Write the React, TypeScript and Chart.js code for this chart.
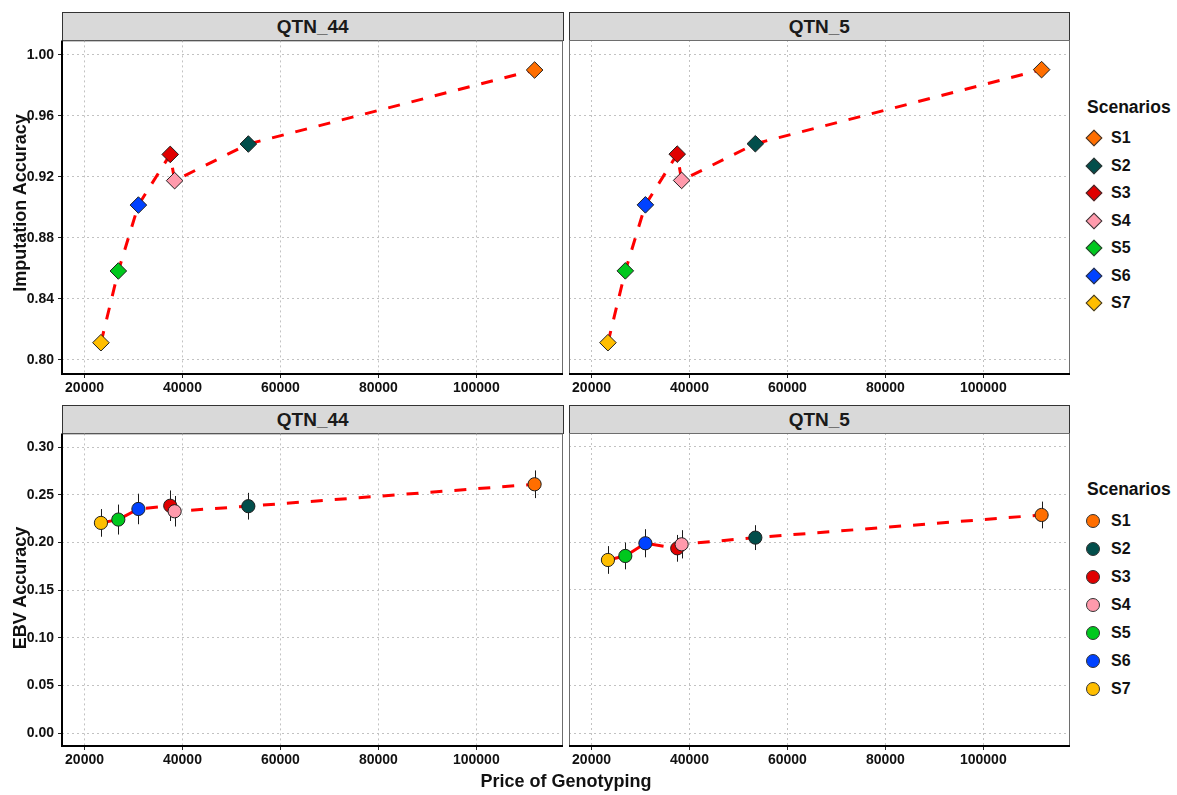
import React, { useEffect, useRef } from 'react';
import { Chart, registerables } from 'chart.js';

Chart.register(...registerables);

// ---------------- data ----------------
const scenarios = ['S1', 'S2', 'S3', 'S4', 'S5', 'S6', 'S7'];
const scenarioColors = ['#FF6E00', '#024E4B', '#E00000', '#FF9AAC', '#00C81E', '#0042FF', '#FFBE00'];
const panelTitles = ['QTN_44', 'QTN_5'];

const genotypingPrice = [111900, 53450, 37500, 38400, 26900, 31000, 23350];

const imputationQTN44 = [0.990, 0.9415, 0.9347, 0.9175, 0.8583, 0.9015, 0.8113];
const imputationQTN5 = [0.990, 0.9415, 0.9347, 0.9175, 0.8583, 0.9015, 0.8113];

const ebvQTN44 = [0.261, 0.238, 0.2385, 0.2327, 0.224, 0.2351, 0.2205];
const ebvQTN44Err = [0.0145, 0.014, 0.016, 0.016, 0.0157, 0.016, 0.0145];
const ebvQTN5 = [0.2285, 0.2048, 0.1936, 0.1978, 0.1856, 0.1989, 0.1814];
const ebvQTN5Err = [0.014, 0.013, 0.014, 0.0148, 0.014, 0.0147, 0.0145];

const priceTicks = [20000, 40000, 60000, 80000, 100000];
const imputationTicks = [0.80, 0.84, 0.88, 0.92, 0.96, 1.00];
const ebvTicks = [0.00, 0.05, 0.10, 0.15, 0.20, 0.25, 0.30];

const FONT = '"Liberation Sans", Arial, Helvetica, sans-serif';
const TEXT = '#111111';

// ---------------- plugins ----------------
const errorBarPlugin = {
  id: 'errorBars',
  beforeDatasetsDraw(chart: any, _args: any, opts: any) {
    const errs: number[] | undefined = opts && opts.errors;
    if (!errs) return;
    const ds = chart.data.datasets[1];
    const meta = chart.getDatasetMeta(1);
    const ys = chart.scales.y;
    const ctx = chart.ctx;
    ctx.save();
    ctx.strokeStyle = '#1a1a1a';
    ctx.lineWidth = 1;
    meta.data.forEach((pt: any, i: number) => {
      const v = ds.data[i].y;
      const y1 = ys.getPixelForValue(v + errs[i]);
      const y2 = ys.getPixelForValue(v - errs[i]);
      const x = Math.round(pt.x) + 0.5;
      ctx.beginPath();
      ctx.moveTo(x, y1);
      ctx.lineTo(x, y2);
      ctx.stroke();
    });
    ctx.restore();
  },
};

const framePlugin = {
  id: 'panelFrame',
  afterDraw(chart: any, _args: any, opts: any) {
    const { left, right, top, bottom } = chart.chartArea;
    const ctx = chart.ctx;
    ctx.save();
    ctx.strokeStyle = '#6e6e6e';
    ctx.lineWidth = 1;
    ctx.beginPath();
    ctx.moveTo(left, top + 0.5);
    ctx.lineTo(right, top + 0.5);
    ctx.moveTo(right - 0.5, top);
    ctx.lineTo(right - 0.5, bottom);
    if (!opts.axisLeft) {
      ctx.moveTo(left + 0.5, top);
      ctx.lineTo(left + 0.5, bottom);
    }
    ctx.stroke();
    ctx.strokeStyle = '#000000';
    ctx.lineWidth = 2;
    ctx.beginPath();
    if (opts.axisLeft) {
      ctx.moveTo(left, top);
      ctx.lineTo(left, bottom + 1);
    }
    ctx.moveTo(left - (opts.axisLeft ? 1 : 0), bottom);
    ctx.lineTo(right, bottom);
    ctx.stroke();
    ctx.restore();
  },
};

// ---------------- panel ----------------
type PanelProps = {
  left: number;
  top: number;
  width: number;
  height: number;
  showY: boolean;
  values: number[];
  errors?: number[];
  yTicks: number[];
  yMin: number;
  yMax: number;
  pointStyle: string;
  radius: number;
};

function Panel(p: PanelProps) {
  const ref = useRef<HTMLCanvasElement | null>(null);
  useEffect(() => {
    if (!ref.current) return;
    const points = genotypingPrice.map((x, i) => ({ x, y: p.values[i] }));
    const linePts = [...points].sort((a, b) => a.x - b.x);
    const gridCommon = {
      color: '#c2c2c2',
      lineWidth: 1,
      tickLength: 4,
      tickColor: '#222222',
      tickWidth: 1,
      tickBorderDash: [],
    };
    const chart = new Chart(ref.current, {
      type: 'scatter',
      data: {
        datasets: [
          {
            data: linePts,
            showLine: true,
            borderColor: '#FF0000',
            borderWidth: 3,
            borderDash: [12, 12],
            borderCapStyle: 'butt',
            pointRadius: 0,
            pointHoverRadius: 0,
            fill: false,
            tension: 0,
            order: 2,
          } as any,
          {
            data: points,
            pointStyle: p.pointStyle,
            pointRadius: p.radius,
            pointHoverRadius: p.radius,
            backgroundColor: scenarioColors,
            borderColor: '#1f1f1f',
            borderWidth: 1,
            order: 1,
          } as any,
        ],
      },
      options: {
        responsive: false,
        animation: false,
        events: [],
        layout: { autoPadding: false, padding: { top: 12, right: 5, bottom: 0, left: p.showY ? 0 : 5 } },
        plugins: {
          legend: { display: false },
          tooltip: { enabled: false },
          errorBars: { errors: p.errors },
          panelFrame: { axisLeft: p.showY },
        } as any,
        scales: {
          x: {
            type: 'linear',
            min: 15400,
            max: 117700,
            afterBuildTicks: (s: any) => {
              s.ticks = priceTicks.map((v) => ({ value: v }));
            },
            afterFit: (s: any) => {
              s.height = 26;
            },
            grid: { ...gridCommon, drawTicks: true },
            border: { display: false, dash: [2, 3] },
            ticks: {
              color: TEXT,
              font: { family: FONT, size: 14, weight: 'bold' },
              padding: 2,
              maxRotation: 0,
              autoSkip: false,
              callback: (v: any) => String(v),
            },
          },
          y: {
            type: 'linear',
            min: p.yMin,
            max: p.yMax,
            afterBuildTicks: (s: any) => {
              s.ticks = p.yTicks.map((v) => ({ value: v }));
            },
            afterFit: (s: any) => {
              s.width = p.showY ? 62 : 0;
            },
            grid: { ...gridCommon, drawTicks: p.showY },
            border: { display: false, dash: [2, 3] },
            ticks: {
              display: p.showY,
              color: TEXT,
              font: { family: FONT, size: 14, weight: 'bold' },
              padding: 4,
              autoSkip: false,
              callback: (v: any) => Number(v).toFixed(2),
            },
          },
        },
      } as any,
      plugins: [errorBarPlugin, framePlugin],
    });
    return () => chart.destroy();
  }, []);
  return (
    <canvas
      ref={ref}
      width={p.width}
      height={p.height}
      style={{ position: 'absolute', left: p.left, top: p.top, width: p.width, height: p.height }}
    />
  );
}

function Strip({ left, top, width, label }: { left: number; top: number; width: number; label: string }) {
  return (
    <div
      style={{
        position: 'absolute',
        left,
        top,
        width,
        height: 29,
        boxSizing: 'border-box',
        background: '#d9d9d9',
        border: '1px solid #333333',
        display: 'flex',
        alignItems: 'center',
        justifyContent: 'center',
        font: `bold 19px ${FONT}`,
        color: '#1a1a1a',
      }}
    >
      {label}
    </div>
  );
}

function Legend({ top, step, shape }: { top: number; step: number; shape: 'diamond' | 'circle' }) {
  return (
    <>
      <div
        style={{
          position: 'absolute',
          left: 1087,
          top: top,
          transform: 'translateY(-50%)',
          font: `bold 17.5px ${FONT}`,
          lineHeight: '20px',
          color: TEXT,
          whiteSpace: 'nowrap',
        }}
      >
        Scenarios
      </div>
      {scenarios.map((s, i) => {
        const cy = top + 31.5 + i * step;
        const marker =
          shape === 'diamond' ? (
            <div
              style={{
                position: 'absolute',
                left: 1094.3 - 6,
                top: cy - 6,
                width: 12,
                height: 12,
                boxSizing: 'border-box',
                background: scenarioColors[i],
                border: '1px solid #333',
                transform: 'rotate(45deg)',
              }}
            />
          ) : (
            <div
              style={{
                position: 'absolute',
                left: 1093.3 - 7,
                top: cy - 7,
                width: 14,
                height: 14,
                boxSizing: 'border-box',
                background: scenarioColors[i],
                border: '1px solid #333',
                borderRadius: '50%',
              }}
            />
          );
        return (
          <React.Fragment key={s}>
            {marker}
            <div
              style={{
                position: 'absolute',
                left: 1111,
                top: cy,
                transform: 'translateY(-50%)',
                font: `bold 16px ${FONT}`,
                lineHeight: '18px',
                color: TEXT,
              }}
            >
              {s}
            </div>
          </React.Fragment>
        );
      })}
    </>
  );
}

function RotTitle({ cx, cy, text }: { cx: number; cy: number; text: string }) {
  return (
    <div
      style={{
        position: 'absolute',
        left: cx,
        top: cy,
        transform: 'translate(-50%, -50%) rotate(-90deg)',
        font: `bold 18px ${FONT}`,
        color: TEXT,
        whiteSpace: 'nowrap',
        lineHeight: '20px',
      }}
    >
      {text}
    </div>
  );
}

export default function App() {
  return (
    <div
      style={{
        position: 'absolute',
        left: 0,
        top: 0,
        width: 1177,
        height: 795,
        background: '#ffffff',
        overflow: 'hidden',
        fontFamily: FONT,
      }}
    >
      {/* top row: imputation accuracy */}
      <Strip left={62} top={12} width={501.5} label={panelTitles[0]} />
      <Strip left={568.5} top={12} width={501.5} label={panelTitles[1]} />
      <Panel left={0} top={28} width={568} height={372} showY values={imputationQTN44}
        yTicks={imputationTicks} yMin={0.7908} yMax={1.0094} pointStyle="rectRot" radius={8.3} />
      <Panel left={564} top={28} width={511} height={372} showY={false} values={imputationQTN5}
        yTicks={imputationTicks} yMin={0.7908} yMax={1.0094} pointStyle="rectRot" radius={8.3} />

      {/* bottom row: EBV accuracy */}
      <Strip left={62} top={405} width={501.5} label={panelTitles[0]} />
      <Strip left={568.5} top={405} width={501.5} label={panelTitles[1]} />
      <Panel left={0} top={421} width={568} height={351} showY values={ebvQTN44} errors={ebvQTN44Err}
        yTicks={ebvTicks} yMin={-0.0133} yMax={0.3143} pointStyle="circle" radius={6.6} />
      <Panel left={564} top={421} width={511} height={351} showY={false} values={ebvQTN5} errors={ebvQTN5Err}
        yTicks={ebvTicks} yMin={-0.0133} yMax={0.3143} pointStyle="circle" radius={6.6} />

      <RotTitle cx={19.5} cy={203} text="Imputation Accuracy" />
      <RotTitle cx={19.5} cy={588} text="EBV Accuracy" />
      <div
        style={{
          position: 'absolute',
          left: 566,
          top: 781,
          transform: 'translate(-50%, -50%)',
          font: `bold 18px ${FONT}`,
          color: TEXT,
          whiteSpace: 'nowrap',
        }}
      >
        Price of Genotyping
      </div>

      <Legend top={106.7} step={27.5} shape="diamond" />
      <Legend top={489.3} step={28} shape="circle" />
    </div>
  );
}
